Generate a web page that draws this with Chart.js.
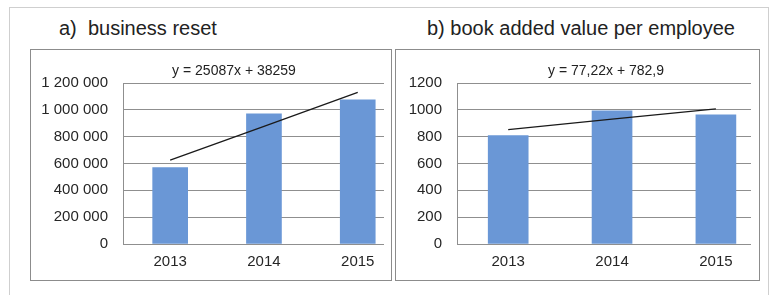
<!DOCTYPE html>
<html>
<head>
<meta charset="utf-8">
<script src="https://cdn.jsdelivr.net/npm/chart.js@4.4.1/dist/chart.umd.min.js"></script>
<style>
  body { margin: 0; width: 774px; height: 295px; background: #fff; position: relative; overflow: hidden;
         font-family: "Liberation Sans", Arial, sans-serif; }
  .frame { position: absolute; left: 9px; top: 7px; width: 758px; height: 290px; border: 1px solid #cfcfcf; border-bottom: none; }
  .title { position: absolute; top: 17px; font-size: 20px; color: #222; white-space: pre; }
  .box { position: absolute; top: 49px; height: 230px; border: 1px solid #8c8c8c; }
  .box canvas { position: absolute; left: 0; top: 0; }
  .eq { position: absolute; top: 62px; font-size: 14px; color: #222; white-space: pre; transform: translateX(-50%); }
</style>
</head>
<body>
<div class="frame"></div>
<div class="title" style="left:59px">a)  business reset</div>
<div class="title" style="left:427px">b) book added value per employee</div>
<div class="box" style="left:30px;width:360px"><canvas id="chartA" width="360" height="230"></canvas></div>
<div class="box" style="left:395px;width:363px"><canvas id="chartB" width="363" height="230"></canvas></div>
<div class="eq" style="left:234px">y = 25087x + 38259</div>
<div class="eq" style="left:606px">y = 77,22x + 782,9</div>
<script>
const years = [2013, 2014, 2015];

// a) business reset
const resetValues = [570000, 970000, 1075000];
const resetTrend = [625000, 877000, 1130000];
const resetTicks = ["0", "200 000", "400 000", "600 000", "800 000", "1 000 000", "1 200 000"];

// b) book added value per employee
const valueValues = [808, 993, 963];
const valueTrend = [852, 930, 1007];
const valueTicks = ["0", "200", "400", "600", "800", "1000", "1200"];

function barFill(context) {
  const el = context.element;
  const ctx = context.chart.ctx;
  if (!el || !el.width) return "#6a97d6";
  const g = ctx.createLinearGradient(el.x - el.width / 2, 0, el.x + el.width / 2, 0);
  g.addColorStop(0, "#5a86c8");
  g.addColorStop(0.5, "#74a0dc");
  g.addColorStop(1, "#5a86c8");
  return g;
}

function makeChart(id, values, trend, ticks, opts) {
  const step = opts.max / (ticks.length - 1);
  return new Chart(document.getElementById(id), {
    data: {
      datasets: [
        {
          type: "line",
          data: years.map((y, i) => ({ x: y, y: trend[i] })),
          borderColor: "#1a1a1a",
          borderWidth: 1.3,
          pointRadius: 0,
          tension: 0,
          order: 0
        },
        {
          type: "bar",
          data: years.map((y, i) => ({ x: y, y: values[i] })),
          backgroundColor: barFill,
          barThickness: opts.barWidth,
          order: 1
        }
      ]
    },
    options: {
      responsive: false,
      animation: false,
      layout: { padding: { top: 33, right: opts.padRight, bottom: 0, left: 0 } },
      plugins: { legend: { display: false }, tooltip: { enabled: false } },
      scales: {
        x: {
          type: "linear",
          offset: false,
          min: opts.xMin,
          max: opts.xMax,
          afterBuildTicks: s => { s.ticks = years.map(v => ({ value: v })); },
          afterFit: s => { s.height = 36; },
          grid: { display: false, drawTicks: false, offset: false },
          border: { display: false },
          ticks: {
            padding: 9,
            color: "#262626",
            font: { family: "Liberation Sans", size: 15 },
            callback: v => String(v),
            maxRotation: 0
          }
        },
        y: {
          min: 0,
          max: opts.max,
          afterBuildTicks: s => { s.ticks = ticks.map((t, i) => ({ value: i * step })); },
          afterFit: s => { s.width = opts.axisWidth; },
          grid: { color: "#8f8f8f", lineWidth: 1, drawTicks: false },
          border: { display: true, color: "#8f8f8f" },
          ticks: {
            padding: 15,
            color: "#262626",
            font: { family: "Liberation Sans", size: 15 },
            callback: (v, i) => ticks[i]
          }
        }
      }
    }
  });
}

makeChart("chartA", resetValues, resetTrend, resetTicks,
  { max: 1200000, axisWidth: 92, padRight: 7, xMin: 2012.497, xMax: 2015.28, barWidth: 35 });
makeChart("chartB", valueValues, valueTrend, valueTicks,
  { max: 1200, axisWidth: 61, padRight: 8, xMin: 2012.507, xMax: 2015.338, barWidth: 40 });
</script>
</body>
</html>
